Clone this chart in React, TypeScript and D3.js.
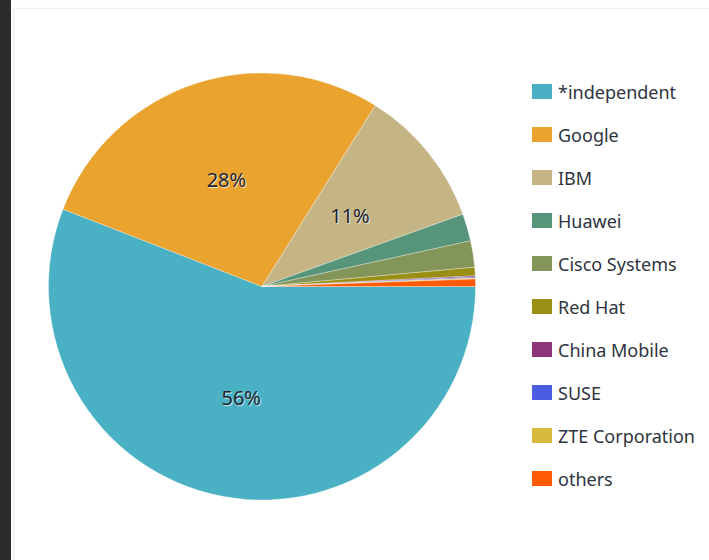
import React from "react";
import * as d3 from "d3";

const categories = ["*independent", "Google", "IBM", "Huawei", "Cisco Systems", "Red Hat", "China Mobile", "SUSE", "ZTE Corporation", "others"];
const values = [55.9, 28.0, 10.6, 2.07, 1.99, 0.64, 0.09, 0.08, 0.07, 0.56];
const colors = ["#4ab1c4", "#e9a32e", "#c6b584", "#56957a", "#84955a", "#998f14", "#8d3579", "#4b5ee2", "#d6b93d", "#ff5a05"];

const W = 709;
const H = 560;

export default function App() {
  const cx = 262;
  const cy = 286.5;
  const r = 213.5;
  const data = categories.map((c, i) => ({ name: c, value: values[i], color: colors[i] }));
  const total = d3.sum(values);
  // start at 3 o'clock, clockwise
  const pie = d3
    .pie<any>()
    .value((d: any) => d.value)
    .sort(null)
    .startAngle(Math.PI / 2)
    .endAngle(Math.PI / 2 + 2 * Math.PI);
  const arcs = pie(data);
  const arcGen = d3.arc<any>().innerRadius(0).outerRadius(r);
  const labelR = 113;
  const fmt = (v: number) => `${Math.round((v / total) * 100)}%`;

  const legendX = 532;
  const legendY0 = 84;
  const legendStep = 43;

  return (
    <svg width={W} height={H} style={{ position: "fixed", left: 0, top: 0, background: "#fff" }}>
      <rect x={0} y={0} width={11} height={H} fill="#2b2b2b" />
      <rect x={13.5} y={8.5} width={W} height={H} fill="#fff" stroke="#f0f0f0" strokeWidth={1.5} />
      <g transform={`translate(${cx},${cy})`}>
        {arcs.map((a, i) => (
          <path key={i} d={arcGen(a) as string} fill={a.data.color} stroke="#ffffff" strokeOpacity={0.5} strokeWidth={0.6} />
        ))}
        {arcs.map((a, i) => {
          if (a.data.value / total < 0.05) return null;
          const mid = (a.startAngle + a.endAngle) / 2;
          const x = Math.sin(mid) * labelR;
          const y = -Math.cos(mid) * labelR;
          return (
            <text
              key={"l" + i}
              x={x}
              y={y}
              textAnchor="middle"
              dominantBaseline="central"
              fontFamily="'Noto Sans', sans-serif"
              fontSize={20}
              fill="#1e2430"
              style={{ textShadow: "1px 1px 1px rgba(255,255,255,0.75)" }}
            >
              {fmt(a.data.value)}
            </text>
          );
        })}
      </g>
      <g>
        {data.map((d, i) => (
          <g key={"lg" + i} transform={`translate(${legendX},${legendY0 + i * legendStep})`}>
            <rect x={0} y={0} width={20} height={15} fill={d.color} />
            <text
              x={26}
              y={7.5}
              dominantBaseline="central"
              fontFamily="'Noto Sans', sans-serif"
              fontSize={18}
              fill="#2e3440"
            >
              {d.name}
            </text>
          </g>
        ))}
      </g>
    </svg>
  );
}
